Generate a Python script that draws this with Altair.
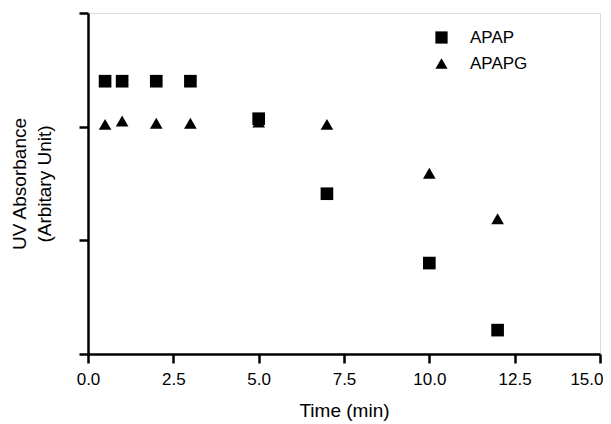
import altair as alt
import pandas as pd

time_apap = [0.5, 1, 2, 3, 5, 7, 10, 12]
apap = [2.40, 2.40, 2.40, 2.40, 2.07, 1.41, 0.80, 0.21]
time_apapg = [0.5, 1, 2, 3, 5, 7, 10, 12]
apapg = [2.02, 2.05, 2.03, 2.03, 2.04, 2.02, 1.59, 1.19]
x_ticks = [0, 2.5, 5, 7.5, 10, 12.5, 15]
y_ticks = [0, 1, 2, 3]

df = pd.concat([
    pd.DataFrame({"Time": time_apap, "Abs": apap, "Series": "APAP"}),
    pd.DataFrame({"Time": time_apapg, "Abs": apapg, "Series": "APAPG"}),
])

font = "Liberation Sans"

chart = alt.Chart(df).mark_point(filled=True, opacity=1, color="black", size=160).encode(
    x=alt.X("Time:Q", title="Time (min)",
            scale=alt.Scale(domain=[0, 15], nice=False),
            axis=alt.Axis(values=x_ticks, format=".1f",
                          grid=False, domainColor="black", domainWidth=2.5,
                          tickColor="black", tickWidth=2.5, tickSize=9,
                          labelFont=font, labelFontSize=17, labelColor="black",
                          labelPadding=8,
                          labelAlign=alt.ExprRef("datum.value == 15 ? 'right' : 'center'"),
                          labelOffset=alt.ExprRef("datum.value == 15 ? 3 : 0"),
                          titleFont=font, titleFontSize=19,
                          titleFontWeight="normal", titleColor="black", titlePadding=14)),
    y=alt.Y("Abs:Q", title=["UV Absorbance", "(Arbitary Unit)"],
            scale=alt.Scale(domain=[0, 3], nice=False),
            axis=alt.Axis(values=y_ticks, labels=False,
                          grid=False, domainColor="black", domainWidth=2.5,
                          tickColor="black", tickWidth=2.5, tickSize=9,
                          titleFont=font, titleFontSize=19, titleFontWeight="normal",
                          titleColor="black", titlePadding=23, titleLineHeight=25)),
    shape=alt.Shape("Series:N",
                    scale=alt.Scale(domain=["APAP", "APAPG"], range=["square", "triangle-up"]),
                    legend=alt.Legend(title=None, orient="none", legendX=345, legendY=16,
                                      symbolSize=150, symbolFillColor="black",
                                      symbolStrokeColor="black", symbolOpacity=1,
                                      labelFont=font, labelFontSize=17, labelColor="black",
                                      labelOffset=20, rowPadding=7, padding=0)),
).properties(
    width=512, height=341,
    autosize=alt.AutoSizeParams(type="none"),
    padding={"left": 80, "top": 5, "right": 3, "bottom": 70},
).configure_view(stroke=None).configure(background="white")

chart.save("out.html", embed_options={"renderer": "svg", "actions": False})
